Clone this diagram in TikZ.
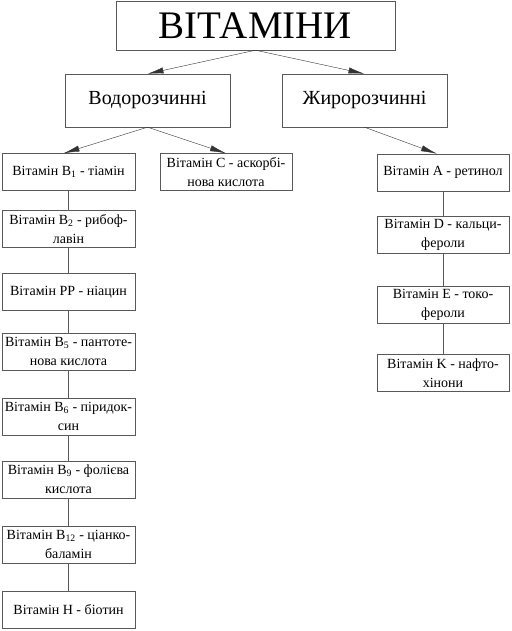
\documentclass[tikz,border=0pt]{standalone}
\usepackage{fontspec}
\setmainfont{Liberation Serif}
\usetikzlibrary{arrows.meta}

\begin{document}
\begin{tikzpicture}[
  x=1pt, y=-1pt,
  font=\fontsize{14}{19}\selectfont,
  vbox/.style={draw=black!65, minimum width=133pt, minimum height=37pt, align=center, inner sep=1pt},
  group/.style={draw=black!65, minimum width=165pt, minimum height=53pt, font=\fontsize{20}{24}\selectfont},
  link/.style={black!65},
  branch/.style={black!80, -{Latex[length=16pt,width=6pt]}},
]
\useasboundingbox (0,0) rectangle (511,631);
\node[draw=black!65, minimum width=279pt, minimum height=49pt, font=\fontsize{39}{44}\selectfont] (top) at (255.5,25.5) {ВІТАМІНИ};
\node[group] (water) at (147.5,100.5) {Водорозчинні};
\node[group] (fat) at (364.5,100.5) {Жиророзчинні};
% water-soluble column
\node[vbox] (b1) at (68.5,172) {Вітамін B\textsubscript{1} - тіамін};
\node[vbox] (b2) at (68.5,229) {Вітамін B\textsubscript{2} - рибоф-\\лавін};
\node[vbox] (pp) at (68.5,292) {Вітамін PP - ніацин};
\node[vbox] (b5) at (68.5,351.5) {Вітамін B\textsubscript{5} - пантоте-\\нова кислота};
\node[vbox] (b6) at (68.5,416.5) {Вітамін B\textsubscript{6} - піридок-\\син};
\node[vbox] (b9) at (68.5,479.5) {Вітамін B\textsubscript{9} - фолієва\\кислота};
\node[vbox] (b12) at (68.5,544.5) {Вітамін B\textsubscript{12} - ціанко-\\баламін};
\node[vbox] (h) at (68.5,609.5) {Вітамін H - біотин};
\node[vbox, minimum width=132pt] (c) at (226,172) {Вітамін C - аскорбі-\\нова кислота};
% fat-soluble column
\node[vbox, minimum width=132pt] (a) at (443,172.5) {Вітамін A - ретинол};
\node[vbox, minimum width=132pt] (d) at (443,234.5) {Вітамін D - кальци-\\фероли};
\node[vbox, minimum width=132pt] (e) at (443,304.5) {Вітамін E - токо-\\фероли};
\node[vbox, minimum width=132pt] (k) at (443,373) {Вітамін K - нафто-\\хінони};
\draw[branch] (top.south) -- (water.north);
\draw[branch] (top.south) -- (fat.north);
\draw[branch] (water.south) -- ([xshift=-5pt]b1.north);
\draw[branch] (water.south) -- (c.north);
\draw[branch] (fat.south) -- ([xshift=-6pt]a.north);
\foreach \u/\v in {b1/b2, b2/pp, pp/b5, b5/b6, b6/b9, b9/b12, b12/h, a/d, d/e, e/k}
  \draw[link] (\u) -- (\v);
\end{tikzpicture}
\end{document}
